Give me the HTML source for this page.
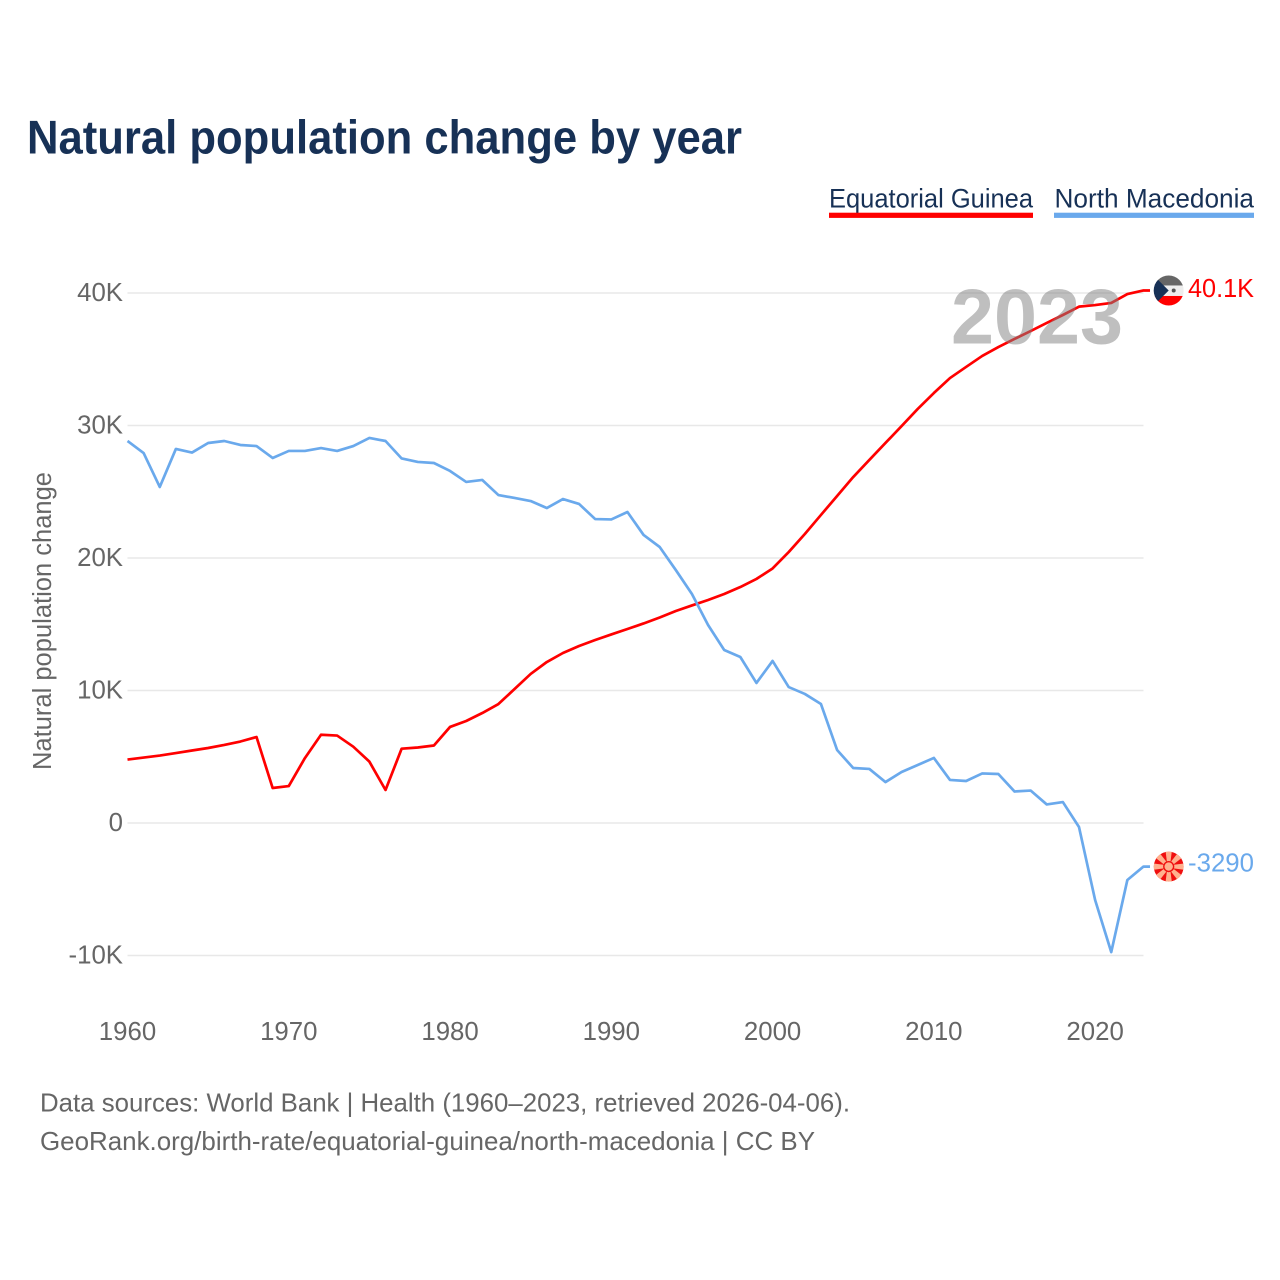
<!DOCTYPE html>
<html lang="en">
<head>
<meta charset="utf-8">
<title>Natural population change by year</title>
<style>
html,body{margin:0;padding:0;background:#fff;}
svg{display:block;}
text{font-family:"Liberation Sans",sans-serif;}
.tick{font-size:25.8px;fill:#666;}
</style>
</head>
<body>
<svg id="chart" width="1280" height="1280" viewBox="0 0 1280 1280" xmlns="http://www.w3.org/2000/svg">
  <defs>
    <clipPath id="flag-clip"><circle cx="0" cy="0" r="15"></circle></clipPath>
  </defs>
  <rect width="1280" height="1280" fill="#fff"></rect>
  <text x="27" y="153.5" font-size="47" font-weight="700" fill="#173156" textLength="715" lengthAdjust="spacingAndGlyphs">Natural population change by year</text>

  <g>
    <text x="829" y="207.5" font-size="27" fill="#173156" textLength="204" lengthAdjust="spacingAndGlyphs">Equatorial Guinea</text>
    <rect x="829" y="212.7" width="204" height="5.2" fill="#ff0000"></rect>
  </g>
  <g>
    <text x="1054.5" y="207.5" font-size="27" fill="#173156" textLength="199.5" lengthAdjust="spacingAndGlyphs">North Macedonia</text>
    <rect x="1054" y="212.7" width="200" height="5.2" fill="#6aa9ec"></rect>
  </g>

  <g id="grid"></g>
  <g id="y-ticks"></g>
  <g id="x-ticks"></g>
  <text transform="translate(51,621) rotate(-90)" text-anchor="middle" font-size="25.5" fill="#666" textLength="298" lengthAdjust="spacingAndGlyphs">Natural population change</text>

  <path id="line-eg" fill="none" stroke="#ff0000" stroke-width="2.7" stroke-linejoin="round"></path>
  <path id="line-mk" fill="none" stroke="#6aa9ec" stroke-width="2.7" stroke-linejoin="round"></path>

  <text x="1037" y="343.5" text-anchor="middle" font-size="78" font-weight="700" fill="#808080" fill-opacity="0.5" textLength="172" lengthAdjust="spacingAndGlyphs">2023</text>

  <g id="flag-eg">
    <g clip-path="url(#flag-clip)">
      <rect x="-15" y="-15.5" width="30" height="10.5" fill="#666"></rect>
      <rect x="-15" y="-5" width="30" height="10.5" fill="#eee"></rect>
      <rect x="-15" y="5.5" width="30" height="10" fill="#ff0000"></rect>
      <polygon points="-16,-16 0,0 -16,16" fill="#173156"></polygon>
      <circle cx="5" cy="0" r="2" fill="#555"></circle>
    </g>
  </g>
  <g id="flag-mk">
    <g clip-path="url(#flag-clip)">
      <circle r="15" fill="#f00f0f"></circle>
      <g fill="#ffb08e">
        <polygon points="-1.2,0 1.2,0 3.2,-16 -3.2,-16"></polygon>
        <polygon points="-1.2,0 1.2,0 3.2,-16 -3.2,-16" transform="rotate(45)"></polygon>
        <polygon points="-1.2,0 1.2,0 3.2,-16 -3.2,-16" transform="rotate(90)"></polygon>
        <polygon points="-1.2,0 1.2,0 3.2,-16 -3.2,-16" transform="rotate(135)"></polygon>
        <polygon points="-1.2,0 1.2,0 3.2,-16 -3.2,-16" transform="rotate(180)"></polygon>
        <polygon points="-1.2,0 1.2,0 3.2,-16 -3.2,-16" transform="rotate(225)"></polygon>
        <polygon points="-1.2,0 1.2,0 3.2,-16 -3.2,-16" transform="rotate(270)"></polygon>
        <polygon points="-1.2,0 1.2,0 3.2,-16 -3.2,-16" transform="rotate(315)"></polygon>
      </g>
      <circle r="5.6" fill="#f00f0f"></circle>
      <circle r="4.2" fill="#ffb08e"></circle>
    </g>
  </g>
  <text id="end-eg" x="1188" font-size="25.8" fill="#ff0000" textLength="66" lengthAdjust="spacingAndGlyphs"></text>
  <text id="end-mk" x="1188" font-size="25.8" fill="#6aa9ec" textLength="66" lengthAdjust="spacingAndGlyphs"></text>

  <text x="40" y="1111.5" font-size="26" fill="#666" textLength="810" lengthAdjust="spacingAndGlyphs">Data sources: World Bank | Health (1960–2023, retrieved 2026-04-06).</text>
  <text x="40" y="1150" font-size="26" fill="#666" textLength="775" lengthAdjust="spacingAndGlyphs">GeoRank.org/birth-rate/equatorial-guinea/north-macedonia | CC BY</text>
</svg>
<script>
const startYear = 1960;
const xTickYears = [1960, 1970, 1980, 1990, 2000, 2010, 2020];
const xTickLabels = ["1960", "1970", "1980", "1990", "2000", "2010", "2020"];
const yTickValues = [-10000, 0, 10000, 20000, 30000, 40000];
const yTickLabels = ["-10K", "0", "10K", "20K", "30K", "40K"];
const equatorialGuinea = [
  4790, 4940, 5090, 5280, 5470, 5660, 5890, 6150, 6490, 2640,
  2790, 4900, 6660, 6600, 5760, 4630, 2490, 5610, 5700, 5850,
  7250, 7700, 8300, 8980, 10110, 11250, 12150, 12830, 13360, 13810,
  14230, 14640, 15060, 15510, 16000, 16420, 16830, 17280, 17810, 18420,
  19210, 20450, 21810, 23250, 24680, 26110, 27400, 28680, 29960, 31250,
  32450, 33580, 34420, 35250, 35920, 36530, 37130, 37740, 38340, 38970,
  39090, 39250, 39920, 40190
];
const northMacedonia = [
  28830, 27920, 25360, 28230, 27960, 28680, 28830, 28530, 28450, 27550,
  28080, 28080, 28300, 28080, 28450, 29060, 28830, 27510, 27250, 27170,
  26570, 25740, 25890, 24750, 24530, 24300, 23770, 24450, 24080, 22940,
  22910, 23470, 21740, 20830, 19090, 17280, 14940, 13060, 12530, 10570,
  12230, 10260, 9740, 8980, 5510, 4150, 4080, 3090, 3850, 4380,
  4910, 3250, 3170, 3740, 3700, 2380, 2450, 1400, 1580, -300,
  -5810, -9740, -4300, -3290
];
const endLabels = ["40.1K", "-3290"];

const NS = "http://www.w3.org/2000/svg";
const PLOT_LEFT = 127.5, PLOT_RIGHT = 1143.5;
function xScale(year) { return PLOT_LEFT + (year - 1960) * (PLOT_RIGHT - PLOT_LEFT) / 63; }
function yScale(value) { return 823 - value * 13.25 / 1000; }
function linePath(values) {
  const pts = values.map(function (v, i) { return xScale(startYear + i).toFixed(2) + "," + yScale(v).toFixed(2); });
  const last = values[values.length - 1];
  return "M" + pts.join("L") + "L1150," + yScale(last).toFixed(2);
}

const grid = document.getElementById("grid");
const yTicks = document.getElementById("y-ticks");
yTickValues.forEach(function (v, i) {
  const gl = document.createElementNS(NS, "line");
  
  
  gl.setAttribute("x1", PLOT_LEFT);
  gl.setAttribute("x2", PLOT_RIGHT);
  gl.setAttribute("y1", yScale(v));
  gl.setAttribute("y2", yScale(v));
  gl.setAttribute("stroke", "#e8e8e8");
  gl.setAttribute("stroke-width", "1.5");
  grid.appendChild(gl);
  const t = document.createElementNS(NS, "text");
  
  
  t.setAttribute("class", "tick");
  t.setAttribute("x", 123);
  t.setAttribute("y", yScale(v) + 8);
  t.setAttribute("text-anchor", "end");
  t.textContent = yTickLabels[i];
  yTicks.appendChild(t);
});

const xTicks = document.getElementById("x-ticks");
xTickYears.forEach(function (yr, i) {
  const t = document.createElementNS(NS, "text");
  
  
  t.setAttribute("class", "tick");
  t.setAttribute("x", xScale(yr));
  t.setAttribute("y", 1040);
  t.setAttribute("text-anchor", "middle");
  t.textContent = xTickLabels[i];
  xTicks.appendChild(t);
});

document.getElementById("line-eg").setAttribute("d", linePath(equatorialGuinea));
document.getElementById("line-mk").setAttribute("d", linePath(northMacedonia));

const egY = yScale(equatorialGuinea[equatorialGuinea.length - 1]);
const mkY = yScale(northMacedonia[northMacedonia.length - 1]);
document.getElementById("flag-eg").setAttribute("transform", "translate(1168.7," + egY + ")");
document.getElementById("flag-mk").setAttribute("transform", "translate(1168.7," + mkY + ")");
const endEg = document.getElementById("end-eg");
endEg.setAttribute("y", egY + 6.5);
endEg.textContent = endLabels[0];
const endMk = document.getElementById("end-mk");
endMk.setAttribute("y", mkY + 5);
endMk.textContent = endLabels[1];
</script>
</body>
</html>
